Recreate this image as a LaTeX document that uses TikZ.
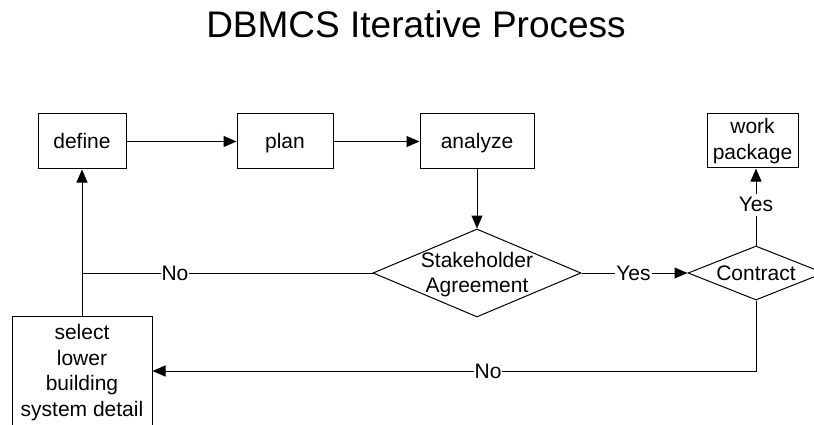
\documentclass[tikz,border=0pt]{standalone}
\usepackage{fontspec}
\setmainfont{Liberation Sans}
\usetikzlibrary{arrows.meta,shapes.geometric}

\tikzset{
  body/.style={font=\fontsize{21}{25.5}\selectfont},
  procbox/.style={draw, line width=1pt, body, align=center, inner sep=0pt},
  oneline/.style={text height=17pt, text depth=3pt},
  decision/.style={diamond, draw, line width=1pt, inner sep=0pt},
  inner text/.style={body, align=center, inner sep=0pt},
  lbl/.style={body, fill=white, inner sep=1pt},
  line/.style={line width=1pt},
  flow/.style={line width=1pt, -{Triangle[length=13pt,width=11pt]}},
}

\begin{document}
\begin{tikzpicture}[x=1pt,y=-1pt]
  \useasboundingbox (0,0) rectangle (814,425);
  \clip (0,0) rectangle (814,425);
  \fill[white] (0,0) rectangle (814,425);

  % title
  \node[anchor=base, inner sep=0pt, font=\fontsize{37}{42}\selectfont] (title) at (416,38) {DBMCS Iterative Process};

  % process boxes
  \node[procbox, oneline, minimum width=88, minimum height=55] (define) at (82,141.5) {define};
  \node[procbox, oneline, minimum width=96, minimum height=55] (plan) at (285,141.5) {plan};
  \node[procbox, oneline, minimum width=114, minimum height=55] (analyze) at (477,141.5) {analyze};
  \node[procbox, minimum width=91, minimum height=54] (work) at (752.5,141) {work\\package};
  \node[procbox, minimum width=140, minimum height=110] (select) at (82,371) {};
  \node[inner text] (select-text) at (82,372.5) {select\\lower\\building\\system detail};

  % decisions
  \node[decision, minimum width=208, minimum height=88] (agree) at (477,273) {};
  \node[inner text] (agree-text) at (477,274.5) {Stakeholder\\Agreement};
  \node[decision, minimum width=136, minimum height=54] (contract) at (756,273) {};
  \node[inner text, oneline] (contract-text) at (756,273) {Contract};

  % junction where the "No" branch meets the return line
  \coordinate (join) at (82,273);

  % connectors
  \draw[flow] (define) -- (plan);
  \draw[flow] (plan) -- (analyze);
  \draw[flow] (analyze) -- (agree);
  \draw[flow] (select) -- (define);
  \draw[line] (agree.west) -- node[lbl, oneline, pos=0.68] {No} (join);
  \draw[flow] (agree.east) -- node[lbl, oneline, pos=0.49] {Yes} (contract.west);
  \draw[flow] (contract.north) -- node[lbl, oneline, pos=0.53] {Yes} (contract.north |- work.south);
  \draw[flow] (contract.south) |- node[lbl, oneline, pos=0.722] {No} (select.east);
\end{tikzpicture}
\end{document}
